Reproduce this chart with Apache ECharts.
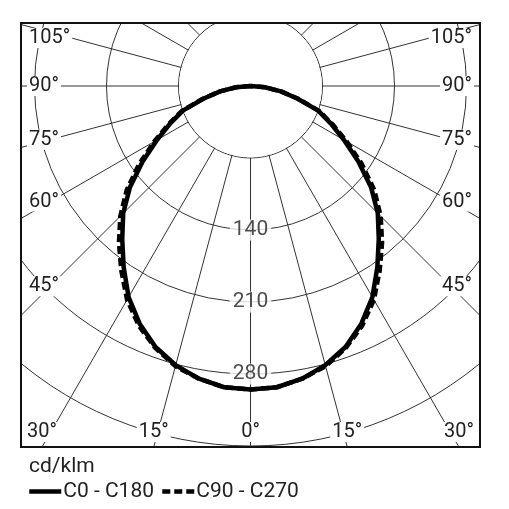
<!DOCTYPE html>
<html><head><meta charset="utf-8">
<script src="https://cdn.jsdelivr.net/npm/echarts@6/dist/echarts.min.js"></script>
<style>html,body{margin:0;padding:0;background:#fff}#c{width:509px;height:509px}</style>
</head><body><div id="c"></div>
<script>
// ---- data (cd/klm) ----
const gammaAngles = [0, 5, 10, 15, 20, 25, 30, 35, 40, 45, 50, 55, 60, 65, 70, 75, 80, 85, 90];
const c0c180  = [295, 294, 289, 281, 270, 255, 237, 215, 194, 175, 153, 128, 105, 86, 70, 47, 30, 14, 0];
const c90c270 = [295, 294, 289, 282, 271, 257, 240, 219, 199, 179, 157, 132, 108, 88, 71, 48, 30, 14, 0];
const radiusTickLabels = [140, 210, 280];
const angleTickLabels = [0, 15, 30, 45, 60, 75, 90, 105];
const unitLabel = 'cd/klm';
const seriesNames = ['C0 - C180', 'C90 - C270'];

// ---- layout ----
const FR = {x1: 21, y1: 23, x2: 480, y2: 447};
const CX = 250.5, CY = 86, R1 = 504, RMAX = 490, RINNER = 70;
const FONT = 'Roboto';
const TXT = '#222';
const GRID = '#333';

function mirrored(vals) {
  const d = [];
  for (let i = vals.length - 1; i >= 0; i--) d.push([vals[i], gammaAngles[i]]);
  for (let i = 1; i < vals.length; i++) d.push([vals[i], -gammaAngles[i]]);
  return d;
}
const clamp = (v, a, b) => Math.max(a, Math.min(b, v));

function angleLabel(deg, side) {
  const t = deg * Math.PI / 180;
  const dx = side * Math.sin(t), dy = Math.cos(t);
  let tEx = Infinity;
  if (dx < -1e-9) tEx = Math.min(tEx, (FR.x1 - CX) / dx);
  if (dx > 1e-9) tEx = Math.min(tEx, (FR.x2 - CX) / dx);
  if (dy > 1e-9) tEx = Math.min(tEx, (FR.y2 - CY) / dy);
  if (dy < -1e-9) tEx = Math.min(tEx, (FR.y1 - CY) / dy);
  const ex = CX + dx * tEx, ey = CY + dy * tEx;
  const iy1 = FR.y1 + 15, iy2 = FR.y2 - 15;
  if (Math.abs(ey - FR.y2) < 0.5) {
    return {x: clamp(ex, FR.x1 + 21, FR.x2 - 21), y: iy2, align: 'center'};
  }
  const px = side < 0 ? FR.x1 + 21 : FR.x2 - 21;
  const py = clamp(CY + 0.96 * dy * ((px - CX) / dx), iy1, iy2);
  return {x: side < 0 ? FR.x1 + 6 : FR.x2 - 6, y: py, align: side < 0 ? 'left' : 'right'};
}

const graphics = [];
// blank disc inside the innermost ring (radial lines start at the ring)
graphics.push({type: 'circle', z: 1, silent: true,
  shape: {cx: CX, cy: CY, r: R1 * RINNER / RMAX - 0.6}, style: {fill: '#fff'}});
angleTickLabels.forEach(a => {
  const sides = a === 0 ? [-1] : [-1, 1];
  sides.forEach(s => {
    const p = angleLabel(a, s);
    graphics.push({
      type: 'text', x: p.x, y: p.y, z: 50, silent: true,
      style: {text: a + '°', fontSize: 20, fontFamily: FONT, fill: TXT,
              align: p.align, verticalAlign: 'middle', backgroundColor: '#fff', padding: [0, 2]}
    });
  });
});
// white masks outside the frame
const W = 509, H = 509;
[[0, 0, W, FR.y1], [0, 0, FR.x1, H], [FR.x2, 0, W - FR.x2, H], [0, FR.y2, W, H - FR.y2]].forEach(r => {
  graphics.push({type: 'rect', z: 100, silent: true, shape: {x: r[0], y: r[1], width: r[2], height: r[3]}, style: {fill: '#fff'}});
});
graphics.push({type: 'rect', z: 110, silent: true,
  shape: {x: FR.x1, y: FR.y1, width: FR.x2 - FR.x1, height: FR.y2 - FR.y1},
  style: {fill: 'none', stroke: '#111', lineWidth: 2}});

const chart = echarts.init(document.getElementById('c'));
chart.setOption({
  animation: false,
  backgroundColor: '#fff',
  textStyle: {fontFamily: FONT},
  title: {text: unitLabel, left: 29, top: 456, padding: 0, z: 200,
          textStyle: {fontSize: 21, fontWeight: 'normal', color: TXT, fontFamily: FONT}},
  legend: {data: seriesNames, left: 27, top: 481, padding: 0, z: 200, itemGap: 6,
           itemWidth: 32, itemHeight: 14,
           itemStyle: {opacity: 0, borderWidth: 0},
           lineStyle: {width: 4.5},
           textStyle: {fontSize: 21, color: TXT, fontFamily: FONT, padding: [0, 0, 0, -3]}},
  polar: {center: [CX, CY], radius: [0, R1]},
  angleAxis: {
    type: 'value', min: -180, max: 180, interval: 15, startAngle: 90, clockwise: true, z: 0,
    axisLine: {show: false}, axisTick: {show: false}, axisLabel: {show: false},
    splitLine: {show: true, lineStyle: {color: GRID, width: 1}}
  },
  radiusAxis: {
    type: 'value', min: 0, max: RMAX, interval: RINNER, z: 0,
    axisLine: {show: false}, axisTick: {show: false}, axisLabel: {show: false},
    splitLine: {show: true, lineStyle: {color: GRID, width: 1}}
  },
  series: [
    {name: seriesNames[1], type: 'line', coordinateSystem: 'polar', clip: false, symbol: 'none', z: 3,
     data: mirrored(c90c270), lineStyle: {color: '#000', width: 4.5, type: [8, 4]}, itemStyle: {color: '#000'}},
    {name: seriesNames[0], type: 'line', coordinateSystem: 'polar', clip: false, symbol: 'none', z: 4,
     data: mirrored(c0c180), lineStyle: {color: '#000', width: 4.5}, itemStyle: {color: '#000'}},
    {type: 'scatter', coordinateSystem: 'polar', symbolSize: 0, z: 5, silent: true,
     data: radiusTickLabels.map(v => [v, 0]),
     label: {show: true, position: 'inside', formatter: p => String(p.value[0]),
             fontSize: 21, fontFamily: FONT, color: TXT, backgroundColor: '#fff', padding: [0, 3]}}
  ],
  graphic: {elements: graphics}
});
</script></body></html>
